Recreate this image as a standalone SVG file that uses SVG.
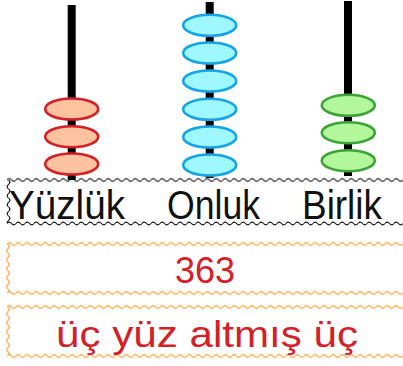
<svg xmlns="http://www.w3.org/2000/svg" width="403" height="366" viewBox="0 0 403 366">
<defs>
<pattern id="wk" width="9" height="5" patternUnits="userSpaceOnUse"><path d="M0 2.5 Q2.25 -0.2 4.5 2.5 T9 2.5" fill="none" stroke="#111" stroke-width="1.1"/></pattern>
<pattern id="wo" width="9" height="5" patternUnits="userSpaceOnUse"><path d="M0 2.5 Q2.25 -0.2 4.5 2.5 T9 2.5" fill="none" stroke="#f7941d" stroke-width="1.1"/></pattern>
</defs>
<style>
.rod{stroke:#000;stroke-width:8}
.red{fill:#fdc2a0;stroke:#d42027;stroke-width:2.6}
.blue{fill:#9ff8ff;stroke:#15a4e8;stroke-width:2.6}
.green{fill:#b3f79c;stroke:#3ea337;stroke-width:2.6}
.lbl{font-family:"Liberation Sans",Arial,sans-serif;font-size:40px;fill:#111}
.num{font-family:"Liberation Sans",Arial,sans-serif;font-size:36px;fill:#d42027}
</style>
<g id="rod-yuzluk">
<line class="rod" x1="71.7" y1="5" x2="71.7" y2="180"/>
<ellipse class="red" cx="71.7" cy="109" rx="26.5" ry="10.5"/>
<ellipse class="red" cx="71.7" cy="136.7" rx="26.5" ry="10.5"/>
<ellipse class="red" cx="71.7" cy="164" rx="26.5" ry="10.5"/>
</g>
<g id="rod-onluk">
<line class="rod" x1="209.7" y1="2" x2="209.7" y2="178"/>
<ellipse class="blue" cx="209.7" cy="25.3" rx="26.5" ry="10.5"/>
<ellipse class="blue" cx="209.7" cy="53" rx="26.5" ry="10.5"/>
<ellipse class="blue" cx="209.7" cy="81" rx="26.5" ry="10.5"/>
<ellipse class="blue" cx="209.7" cy="109.3" rx="26.5" ry="10.5"/>
<ellipse class="blue" cx="209.7" cy="137" rx="26.5" ry="10.5"/>
<ellipse class="blue" cx="209.7" cy="165" rx="26.5" ry="10.5"/>
</g>
<g id="rod-birlik">
<line class="rod" x1="348" y1="1" x2="348" y2="176"/>
<ellipse class="green" cx="348.3" cy="105.3" rx="26.5" ry="10.5"/>
<ellipse class="green" cx="348.3" cy="132.7" rx="26.5" ry="10.5"/>
<ellipse class="green" cx="348.3" cy="160.7" rx="26.5" ry="10.5"/>
</g>
<g id="label-box">
<rect x="8" y="180" width="400" height="44" fill="#fff"/>
<rect transform="translate(7,177.5)" width="400" height="5" fill="url(#wk)"/>
<rect transform="translate(7,221)" width="400" height="5" fill="url(#wk)"/>
<rect transform="translate(11,180) rotate(90)" width="43" height="5" fill="url(#wk)"/>
<text class="lbl" x="9" y="219" textLength="116" lengthAdjust="spacingAndGlyphs">Yüzlük</text>
<text class="lbl" x="167" y="219" textLength="93" lengthAdjust="spacingAndGlyphs">Onluk</text>
<text class="lbl" x="302" y="219" textLength="80" lengthAdjust="spacingAndGlyphs">Birlik</text>
</g>
<g id="number-box">
<rect transform="translate(7,241.5)" width="400" height="5" fill="url(#wo)"/>
<rect transform="translate(7,290.5)" width="400" height="5" fill="url(#wo)"/>
<rect transform="translate(10.5,244) rotate(90)" width="48" height="5" fill="url(#wo)"/>
<text class="num" x="205" y="282.5" text-anchor="middle">363</text>
</g>
<g id="words-box">
<rect transform="translate(7,304.5)" width="400" height="5" fill="url(#wo)"/>
<rect transform="translate(7,353.5)" width="400" height="5" fill="url(#wo)"/>
<rect transform="translate(10.5,307) rotate(90)" width="48" height="5" fill="url(#wo)"/>
<text class="num" x="56" y="346.5" textLength="302" lengthAdjust="spacingAndGlyphs">üç yüz altmış üç</text>
</g>
</svg>
